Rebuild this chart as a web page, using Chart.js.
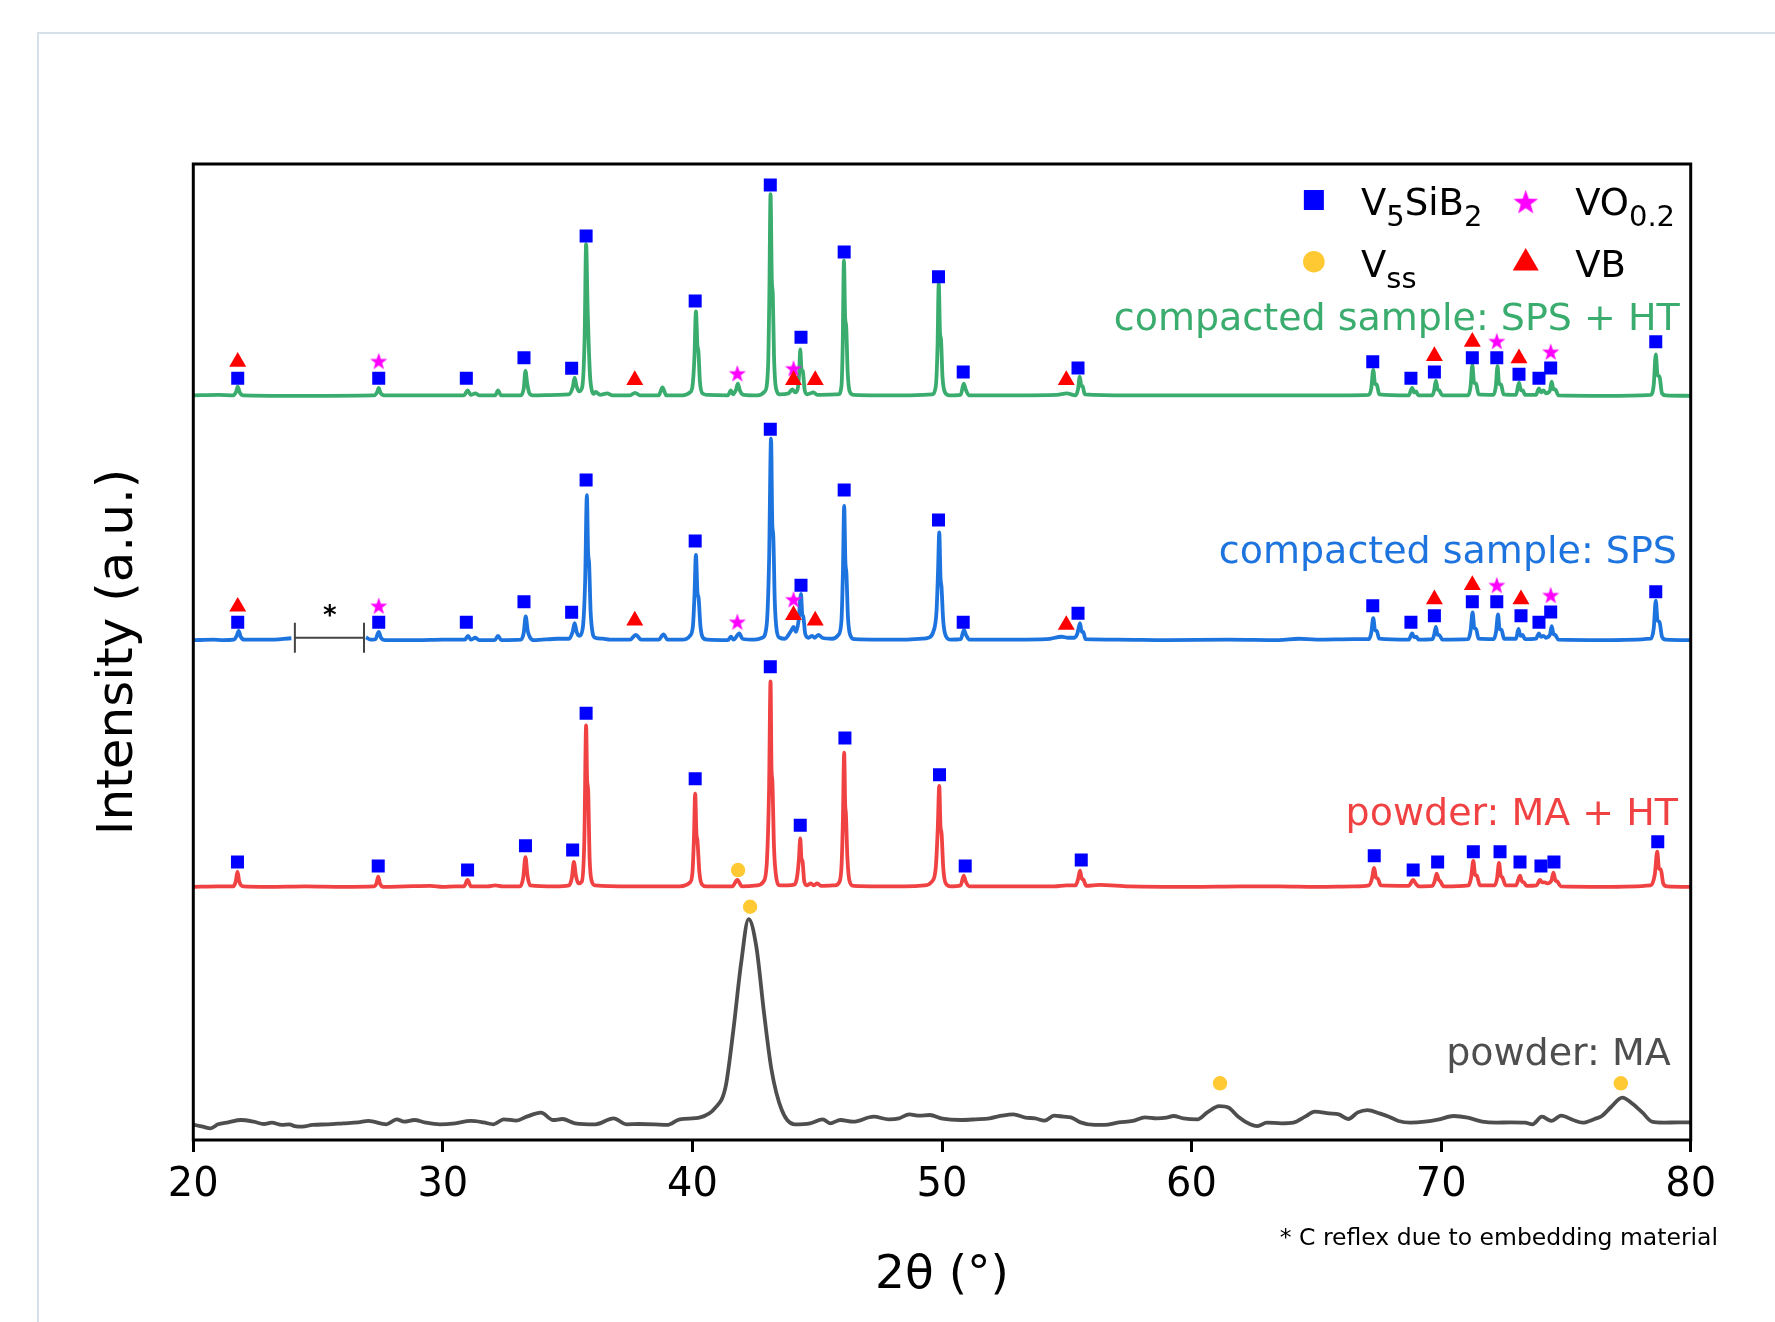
<!DOCTYPE html>
<html>
<head>
<meta charset="utf-8">
<title>XRD patterns</title>
<script src="https://cdn.jsdelivr.net/npm/chart.js@4.4.1/dist/chart.umd.min.js"></script>
<style>
  html, body { margin: 0; padding: 0; background: #fff; overflow: hidden; }
  #frame { position: absolute; left: 36.5px; top: 32px; width: 1800px; height: 1400px;
           border-left: 2.5px solid #d5e0ea; border-top: 2.5px solid #d5e0ea; }
  #wrap { position: absolute; left: 0; top: 0; width: 1775px; height: 1322px; }
</style>
</head>
<body>
<div id="frame"></div>
<div id="wrap"><canvas id="xrd"></canvas></div>
<script>
'use strict';

// ---- readings: 2theta (deg) and intensity above each pattern's own baseline (a.u.)

// compacted sample: SPS + HT
const spsHtTheta = [
  20.0, 21.0,
  21.6, 21.72, 21.78, 21.86, 22.0,
  24.0,
  27.25, 27.37, 27.43, 27.5, 27.65,
  29.5,
  30.85, 30.99, 31.12, 31.3, 31.45,
  32.1, 32.21, 32.33,
  33.12, 33.24, 33.31, 33.38, 33.47, 33.6,
  34.6,
  35.05, 35.2, 35.28, 35.36, 35.45, 35.58, 35.68, 35.74, 35.8, 35.84, 35.9, 35.98, 36.05,
  36.12, 36.3, 36.58, 36.8,
  37.5, 37.7, 37.9,
  38.65, 38.8, 38.95,
  39.6, 39.9,
  40.0, 40.08, 40.14, 40.2, 40.24, 40.3, 40.4, 40.6,
  41.42, 41.54, 41.62,
  41.75, 41.82, 41.9, 42.05,
  42.6, 42.9,
  43.03, 43.08, 43.13, 43.18, 43.22, 43.27, 43.35, 43.5,
  43.85, 44.0, 44.12,
  44.22, 44.28, 44.32, 44.37, 44.42, 44.5, 44.6,
  44.85, 45.0,
  45.85, 45.97, 46.02, 46.07, 46.12, 46.16, 46.22, 46.3, 46.45,
  47.5, 48.5,
  49.6, 49.75, 49.82, 49.87, 49.92, 49.96, 50.02, 50.12, 50.3,
  50.75, 50.87, 50.95, 51.08,
  53.0, 54.6, 55.0,
  55.35, 55.45, 55.52, 55.58, 55.64, 55.72,
  57.5, 60.0, 63.0, 66.0,
  67.1, 67.2, 67.28, 67.35, 67.42, 67.52,
  68.7, 68.84, 68.92, 69.0, 69.08,
  69.65, 69.72, 69.79, 69.86, 69.92, 70.05,
  71.08, 71.18, 71.25, 71.32, 71.4, 71.5,
  72.1, 72.19, 72.26, 72.32, 72.4, 72.5,
  73.0, 73.12, 73.2, 73.27, 73.36,
  73.8, 73.92, 74.0, 74.1, 74.2, 74.36, 74.43, 74.5, 74.57, 74.7,
  76.5,
  78.4, 78.52, 78.6, 78.67, 78.75, 78.85, 79.0,
  80.0
];
const spsHtInt = [
  0.1, 0.15,
  0.1, 0.5, 1.0, 0.4, 0.1,
  0.05,
  0.1, 0.45, 0.86, 0.35, 0.1,
  0.1,
  0.1, 0.6, 0.15, 0.3, 0.1,
  0.1, 0.6, 0.1,
  0.1, 0.8, 2.6, 1.3, 0.3, 0.1,
  0.15,
  0.2, 0.9, 1.9, 1.0, 0.5, 0.9, 6.0, 15.6, 9.0, 5.6, 2.0, 0.5, 0.25,
  0.45, 0.15, 0.3, 0.1,
  0.1, 0.35, 0.1,
  0.1, 0.9, 0.1,
  0.1, 0.4,
  1.0, 4.0, 8.7, 5.2, 4.6, 1.5, 0.3, 0.15,
  0.1, 0.6, 0.2,
  0.7, 1.3, 0.6, 0.15,
  0.1, 0.5,
  3.0, 10.0, 20.7, 12.0, 10.4, 4.0, 0.8, 0.2,
  0.3, 0.7, 0.4,
  0.8, 2.5, 4.8, 2.8, 2.6, 0.6, 0.2,
  0.4, 0.15,
  0.2, 1.0, 5.0, 13.9, 8.0, 7.2, 2.5, 0.5, 0.15,
  0.1, 0.1,
  0.2, 1.0, 5.0, 11.6, 6.5, 5.8, 2.0, 0.4, 0.1,
  0.15, 1.3, 0.7, 0.1,
  0.1, 0.15, 0.3,
  0.1, 0.7, 2.0, 1.1, 1.0, 0.2,
  0.1, 0.1, 0.1, 0.1,
  0.15, 0.8, 2.7, 1.3, 1.2, 0.2,
  0.1, 0.86, 0.4, 0.5, 0.1,
  0.1, 0.6, 1.6, 0.7, 0.6, 0.1,
  0.1, 1.0, 3.2, 1.4, 1.3, 0.2,
  0.15, 1.0, 3.1, 1.3, 1.2, 0.2,
  0.15, 1.4, 0.6, 0.6, 0.15,
  0.15, 0.8, 0.4, 0.6, 0.3, 0.6, 1.5, 0.7, 0.7, 0.1,
  0.05,
  0.15, 1.2, 4.3, 2.2, 2.0, 0.3, 0.1,
  0.05
];

// compacted sample: SPS  (null = range cut out, C reflex of embedding material)
const spsTheta = [
  20.0, 20.8, 21.2,
  21.62, 21.74, 21.82, 21.9, 22.05,
  23.0, 23.93,
  25.5,
  26.92, 27.1, 27.3, 27.43, 27.52, 27.7,
  29.0, 30.0,
  30.88, 31.01, 31.12, 31.3, 31.45,
  32.08, 32.21, 32.34,
  33.12, 33.24, 33.32, 33.4, 33.5, 33.65,
  34.6,
  35.05, 35.2, 35.28, 35.36, 35.46, 35.6, 35.7, 35.77, 35.82, 35.86, 35.92, 36.0, 36.1,
  36.4, 36.7,
  37.5, 37.73, 37.95,
  38.65, 38.84, 39.0,
  39.6, 39.9,
  40.02, 40.08, 40.14, 40.2, 40.25, 40.32, 40.42, 40.6,
  41.42, 41.54, 41.65, 41.88, 42.0, 42.5,
  42.8, 42.97, 43.07, 43.15, 43.2, 43.24, 43.3, 43.38, 43.5,
  43.7, 43.95, 44.05, 44.15, 44.25, 44.35, 44.4, 44.44, 44.52, 44.65, 44.8, 44.9, 45.05, 45.2,
  45.6, 45.85, 45.97, 46.03, 46.08, 46.13, 46.17, 46.23, 46.32, 46.5,
  47.5, 48.5, 49.2,
  49.45, 49.65, 49.78, 49.84, 49.89, 49.94, 49.98, 50.05, 50.15, 50.35,
  50.75, 50.88, 50.96, 51.1,
  53.0, 54.2, 54.8, 55.05, 55.3, 55.42, 55.53, 55.6, 55.66, 55.75,
  57.0, 59.0, 61.5, 63.5, 64.3, 65.0, 66.5,
  67.1, 67.2, 67.28, 67.35, 67.42, 67.52,
  68.7, 68.84, 68.92, 69.0, 69.1,
  69.65, 69.72, 69.79, 69.86, 69.92, 70.05,
  71.08, 71.18, 71.26, 71.33, 71.4, 71.5,
  72.1, 72.2, 72.28, 72.34, 72.42, 72.52,
  73.0, 73.1, 73.18, 73.26, 73.36,
  73.8, 73.92, 74.0, 74.1, 74.2, 74.36, 74.43, 74.5, 74.57, 74.7,
  76.5,
  78.4, 78.52, 78.6, 78.67, 78.75, 78.85, 79.0,
  80.0
];
const spsInt = [
  0.05, 0.1, 0.05,
  0.1, 0.5, 1.0, 0.4, 0.1,
  0.1, 0.25,
  null,
  0.35, 0.1, 0.15, 0.9, 0.3, 0.05,
  0.05, 0.1,
  0.1, 0.5, 0.1, 0.3, 0.05,
  0.05, 0.5, 0.05,
  0.1, 0.8, 2.5, 1.0, 0.3, 0.05,
  0.2,
  0.2, 0.9, 1.8, 0.9, 0.5, 1.2, 6.0, 14.9, 9.0, 7.9, 3.0, 0.8, 0.3,
  0.2, 0.1,
  0.1, 0.6, 0.1,
  0.1, 0.65, 0.1,
  0.1, 0.5,
  1.5, 4.5, 8.8, 5.0, 4.3, 1.5, 0.3, 0.1,
  0.05, 0.4, 0.1, 0.75, 0.2, 0.1,
  0.3, 1.5, 8.0, 20.7, 12.0, 10.7, 4.0, 1.0, 0.3,
  0.2, 1.0, 1.4, 0.9, 2.0, 4.8, 2.7, 2.5, 0.7, 0.3, 0.5, 0.3, 0.6, 0.3,
  0.2, 0.6, 2.0, 7.0, 13.8, 8.0, 6.9, 2.5, 0.6, 0.15,
  0.1, 0.1, 0.2,
  0.3, 0.9, 3.0, 7.0, 11.1, 6.5, 5.5, 2.0, 0.5, 0.1,
  0.15, 1.1, 0.6, 0.1,
  0.1, 0.15, 0.4, 0.3, 0.3, 0.7, 1.8, 0.9, 0.9, 0.15,
  0.1, 0.05, 0.1, 0.05, 0.2, 0.1, 0.15,
  0.15, 0.8, 2.3, 1.1, 1.0, 0.2,
  0.1, 0.75, 0.35, 0.4, 0.1,
  0.15, 0.6, 1.4, 0.6, 0.6, 0.1,
  0.15, 1.0, 2.9, 1.3, 1.2, 0.2,
  0.15, 0.9, 2.7, 1.2, 1.1, 0.2,
  0.2, 1.2, 0.5, 0.6, 0.15,
  0.2, 0.75, 0.4, 0.5, 0.3, 0.6, 1.5, 0.7, 0.6, 0.1,
  0.05,
  0.2, 1.3, 4.1, 2.1, 1.9, 0.4, 0.1,
  0.05
];

// powder: MA + HT
const maHtTheta = [
  20.0, 21.0,
  21.6, 21.7, 21.77, 21.84, 22.0,
  23.0, 24.5, 26.0,
  27.25, 27.34, 27.41, 27.48, 27.62,
  28.5, 29.5, 30.0, 30.5,
  30.85, 30.99, 31.12, 31.8, 32.1, 32.4,
  33.1, 33.22, 33.31, 33.39, 33.5,
  34.5,
  35.05, 35.17, 35.25, 35.33, 35.43, 35.57, 35.67, 35.74, 35.78, 35.82, 35.88, 35.97, 36.1,
  37.5, 38.5, 39.5, 39.9,
  40.0, 40.06, 40.11, 40.16, 40.2, 40.28, 40.38, 40.55,
  41.6, 41.8, 41.98, 42.6,
  42.85, 42.98, 43.07, 43.13, 43.17, 43.2, 43.27, 43.36, 43.5,
  43.8, 44.1,
  44.2, 44.27, 44.32, 44.37, 44.41, 44.48, 44.58,
  44.75, 44.85, 45.0, 45.15,
  45.7, 45.9, 45.98, 46.03, 46.08, 46.12, 46.15, 46.21, 46.3, 46.45,
  47.5, 48.5, 49.3,
  49.6, 49.75, 49.83, 49.89, 49.94, 49.98, 50.05, 50.15, 50.35,
  50.75, 50.87, 50.95, 51.1,
  52.5, 54.5, 55.0, 55.35, 55.45, 55.53, 55.6, 55.66, 55.78,
  56.3, 57.5, 60.0, 62.0, 63.5, 65.0, 66.5,
  67.1, 67.22, 67.32, 67.39, 67.46, 67.58,
  68.7, 68.88, 68.98, 69.1,
  69.65, 69.75, 69.82, 69.9, 69.97, 70.1,
  71.1, 71.2, 71.29, 71.36, 71.43, 71.55,
  72.15, 72.24, 72.32, 72.39, 72.46, 72.58,
  73.0, 73.16, 73.24, 73.32, 73.42,
  73.82, 73.96, 74.05, 74.15, 74.25, 74.42, 74.5, 74.58, 74.65, 74.8,
  76.5,
  78.4, 78.56, 78.66, 78.73, 78.8, 78.9, 79.05,
  80.0
];
const maHtInt = [
  0.05, 0.1,
  0.1, 0.6, 1.6, 0.6, 0.1,
  0.05, 0.1, 0.05,
  0.1, 0.4, 1.1, 0.4, 0.05,
  0.1, 0.15, 0.05, 0.1,
  0.1, 0.75, 0.1, 0.1, 0.2, 0.1,
  0.1, 1.0, 3.1, 1.2, 0.2,
  0.1,
  0.2, 1.0, 2.6, 1.2, 0.4, 0.6, 5.0, 16.6, 11.0, 10.0, 3.0, 0.6, 0.2,
  0.1, 0.1, 0.1, 0.5,
  1.5, 5.0, 9.6, 5.5, 4.8, 1.5, 0.3, 0.1,
  0.1, 0.75, 0.1, 0.2,
  0.6, 2.5, 10.0, 21.1, 12.0, 11.0, 4.0, 1.0, 0.2,
  0.2, 0.3,
  1.2, 3.0, 5.0, 2.9, 2.7, 0.6, 0.2,
  0.4, 0.2, 0.4, 0.15,
  0.2, 0.6, 2.5, 7.0, 13.8, 8.5, 7.5, 3.0, 0.6, 0.15,
  0.1, 0.1, 0.2,
  0.6, 2.0, 6.0, 10.4, 6.2, 5.6, 2.0, 0.4, 0.1,
  0.2, 1.2, 0.6, 0.1,
  0.1, 0.1, 0.2, 0.2, 0.8, 1.7, 0.9, 0.8, 0.15,
  0.25, 0.1, 0.05, 0.1, 0.1, 0.05, 0.1,
  0.2, 0.8, 2.0, 1.0, 0.9, 0.2,
  0.15, 0.75, 0.4, 0.1,
  0.15, 0.7, 1.4, 0.8, 0.6, 0.1,
  0.2, 1.0, 2.7, 1.3, 1.2, 0.2,
  0.2, 0.9, 2.5, 1.2, 1.0, 0.2,
  0.2, 1.2, 0.6, 0.5, 0.15,
  0.2, 0.75, 0.5, 0.5, 0.4, 0.7, 1.5, 0.7, 0.6, 0.1,
  0.05,
  0.2, 1.3, 3.65, 1.9, 1.85, 0.4, 0.1,
  0.05
];

// powder: MA
const maTheta = [
  20.0, 20.07, 20.38, 20.69, 20.99, 21.40, 21.91, 22.42, 22.83, 23.14, 23.55, 23.85, 24.06,
  24.37, 24.77, 25.39, 26.00, 26.61, 27.02, 27.74, 28.15, 28.45, 28.86, 29.27, 29.88,
  30.50, 31.11, 31.62, 32.03, 32.44, 32.95, 33.36, 33.93, 34.42, 34.79, 35.30, 36.12,
  36.84, 37.35, 37.86, 38.47, 38.98, 39.49, 40.31, 40.92, 41.33, 41.64, 41.95, 42.25,
  42.56, 42.87, 43.17, 43.58, 44.09, 44.71, 45.22, 45.52, 45.93, 46.44, 47.26, 47.87,
  48.28, 48.69, 49.10, 49.51, 50.02, 50.74, 51.35, 51.91, 52.39, 52.86, 53.34, 53.73,
  54.11, 54.49, 54.88, 55.16, 55.55, 56.12, 56.51, 57.08, 57.65, 58.13, 58.61, 58.99,
  59.28, 59.67, 60.24, 60.63, 61.10, 61.49, 61.87, 62.35, 62.64, 63.02, 63.60, 64.08,
  64.55, 64.94, 65.51, 65.90, 66.28, 66.66, 67.05, 67.53, 67.91, 68.29, 68.77, 69.35,
  69.92, 70.50, 71.07, 71.65, 72.22, 72.79, 73.37, 73.66, 74.04, 74.42, 74.81, 75.29,
  75.67, 76.15, 76.44, 76.82, 77.26, 77.68, 78.06, 78.45, 78.93, 79.50, 79.98
];
const maInt = [
  1.6, 1.54, 1.37, 1.20, 1.61, 1.81, 2.05, 1.88, 1.64, 1.78, 1.54, 1.61, 1.43,
  1.37, 1.54, 1.61, 1.71, 1.81, 1.95, 1.61, 2.12, 1.88, 2.05, 1.81, 1.61,
  1.71, 1.95, 1.81, 1.61, 2.12, 1.98, 2.39, 2.80, 2.05, 2.15, 1.71, 1.61,
  2.22, 1.61, 1.64, 1.61, 1.54, 2.12, 2.32, 3.31, 5.46, 11.27, 18.10, 22.64,
  19.81, 12.98, 7.17, 3.07, 1.61, 1.71, 2.12, 1.71, 2.05, 1.88, 2.39, 2.12,
  2.22, 2.63, 2.49, 2.56, 2.19, 2.05, 2.12, 2.22, 2.49, 2.63, 2.29, 2.22,
  1.98, 2.49, 2.39, 2.32, 1.81, 1.54, 1.54, 1.81, 1.95, 2.32, 2.22, 2.29,
  2.46, 2.22, 2.12, 2.83, 3.48, 3.31, 2.39, 1.61, 1.43, 1.78, 1.71, 1.78,
  2.39, 2.90, 2.73, 2.63, 2.15, 2.83, 3.07, 2.73, 2.39, 1.95, 1.78, 1.88,
  2.12, 2.46, 2.29, 1.88, 1.78, 1.81, 1.78, 1.61, 2.39, 1.95, 2.49, 2.05,
  1.78, 2.15, 2.46, 3.41, 4.34, 3.69, 2.83, 1.88, 1.78, 1.81, 1.81
];

// vertical stacking offset of each pattern (a.u.)
const patternOffsets = [76.2, 51.16, 25.89, 0];
const patternLabels = ['compacted sample: SPS + HT', 'compacted sample: SPS', 'powder: MA + HT', 'powder: MA'];

// ---- phase markers: 2theta and height in the stacked plot (a.u.)
const v5sib2Theta = [
  21.78, 27.43, 30.94, 33.25, 35.16, 35.74, 40.11, 43.12, 44.35, 46.08, 49.86, 50.85, 55.45,
  67.26, 68.79, 69.73, 71.25, 72.23, 73.12, 73.92, 74.39, 78.60,
  21.78, 27.43, 30.94, 33.25, 35.16, 35.74, 40.11, 43.12, 44.35, 46.08, 49.86, 50.85, 55.45,
  67.26, 68.79, 69.73, 71.25, 72.23, 73.20, 73.92, 74.39, 78.60,
  21.77, 27.41, 30.99, 33.31, 35.20, 35.74, 40.11, 43.12, 44.32, 46.11, 49.90, 50.93, 55.58,
  67.32, 68.88, 69.86, 71.29, 72.36, 73.16, 74.00, 74.52, 78.68
];
const v5sib2Y = [
  78.04, 78.04, 78.04, 80.15, 79.07, 92.62, 85.96, 97.85, 82.24, 90.98, 88.45, 78.69, 79.10,
  79.74, 78.04, 78.69, 80.15, 80.15, 78.45, 78.04, 79.10, 81.79,
  53.04, 53.04, 53.04, 55.15, 54.07, 67.62, 61.37, 72.82, 56.83, 66.60, 63.52, 53.04, 53.96,
  54.74, 53.04, 53.72, 55.15, 55.15, 53.72, 53.04, 54.10, 56.18,
  28.48, 28.07, 27.66, 30.15, 29.71, 43.72, 37.02, 48.49, 32.24, 41.19, 37.43, 28.07, 28.69,
  29.13, 27.66, 28.48, 29.54, 29.54, 28.48, 28.07, 28.48, 30.56
];
const vbTheta = [
  21.78, 37.69, 44.05, 44.92, 54.98, 69.73, 71.25, 73.12,
  21.78, 37.69, 44.05, 44.92, 54.98, 69.73, 71.25, 73.20
];
const vbY = [
  79.74, 77.87, 77.87, 77.87, 77.87, 80.33, 81.79, 80.09,
  54.64, 53.21, 53.79, 53.21, 52.77, 55.40, 56.86, 55.40
];
const vo02Theta = [27.43, 41.80, 44.05, 72.23, 74.39, 27.43, 41.80, 44.05, 72.23, 74.39];
const vo02Y = [79.82, 78.56, 79.07, 81.86, 80.77, 54.74, 53.10, 55.40, 56.86, 55.84];
const vssTheta = [41.83, 42.31, 61.14, 77.20];
const vssY = [27.66, 23.90, 5.81, 5.81];

// excluded C reflex range on the SPS pattern
const cReflexRange = [24.07, 26.84];

const xTicks = [20, 30, 40, 50, 60, 70, 80];

// ---- styling
const FONT = '"DejaVu Sans", "Noto Sans", sans-serif';
const lineColors = ['rgb(58,172,110)', 'rgb(30,116,222)', 'rgb(240,66,66)', 'rgb(78,78,78)'];
const C_SQ = '#0000ff', C_TRI = '#ff0000', C_STAR = '#ff00ff', C_CIRC = '#ffc933';

function toPoints(theta, val, off) {
  if (theta.length !== val.length) console.warn('length mismatch', theta.length, val.length);
  const n = Math.min(theta.length, val.length);
  const pts = [];
  for (let i = 0; i < n; i++) pts.push({x: theta[i], y: val[i] === null ? null : val[i] + off});
  return pts;
}

function makeStar(outer, color) {
  const inner = outer * 0.4;
  const w = Math.ceil(2 * outer * Math.sin(Math.PI * 2 / 5)) + 2;
  const h = Math.ceil(outer * (1 + Math.cos(Math.PI / 5))) + 2;
  const c = document.createElement('canvas');
  c.width = w; c.height = h;
  const g = c.getContext('2d');
  g.fillStyle = color;
  g.beginPath();
  const cx = w / 2, cy = (h - outer * (1 + Math.cos(Math.PI / 5))) / 2 + outer;
  for (let i = 0; i < 10; i++) {
    const r = i % 2 ? inner : outer;
    const a = -Math.PI / 2 + i * Math.PI / 5;
    g.lineTo(cx + r * Math.cos(a), cy + r * Math.sin(a));
  }
  g.closePath();
  g.fill();
  return c;
}
const starSmall = makeStar(9, C_STAR);
const starBig = makeStar(13, C_STAR);

const series = [
  [spsHtTheta, spsHtInt],
  [spsTheta, spsInt],
  [maHtTheta, maHtInt],
  [maTheta, maInt]
];

const lineSets = series.map((s, i) => ({
  type: 'line',
  label: patternLabels[i],
  data: toPoints(s[0], s[1], patternOffsets[i]),
  borderColor: lineColors[i],
  borderWidth: 3.8,
  pointRadius: 0,
  cubicInterpolationMode: 'monotone',
  spanGaps: false,
  order: 5
}));

function markerSet(label, theta, y, style, color, radius) {
  return {
    type: 'scatter',
    label: label,
    data: toPoints(theta, y, 0),
    pointStyle: style,
    pointRadius: radius,
    pointHoverRadius: radius,
    backgroundColor: color,
    borderColor: color,
    borderWidth: 0,
    showLine: false,
    order: 1
  };
}

const markerSets = [
  markerSet('V5SiB2', v5sib2Theta, v5sib2Y, 'rect', C_SQ, 9.2),
  markerSet('VB', vbTheta, vbY, 'triangle', C_TRI, 9.8),
  markerSet('VO0.2', vo02Theta, vo02Y, starSmall, C_STAR, 9),
  markerSet('Vss', vssTheta, vssY, 'circle', C_CIRC, 7.2)
];

// legend entries: [symbol, theta, y, text parts ([text, subscript?]), text theta, text baseline]
const legendItems = [
  ['sq', 64.9, 96.31, [['V', 0], ['5', 1], ['SiB', 0], ['2', 1]], 66.79, 94.77],
  ['star', 73.39, 96.14, [['VO', 0], ['0.2', 1]], 75.37, 94.77],
  ['circ', 64.9, 89.99, [['V', 0], ['ss', 1]], 66.79, 88.45],
  ['tri', 73.39, 90.24, [['VB', 0]], 75.37, 88.45]
];
// pattern label anchors (right end, baseline)
const labelTheta = [79.56, 79.45, 79.49, 79.2];
const labelY = [82.99, 59.15, 32.27, 7.68];

const decor = {
  id: 'decor',
  afterDraw(chart) {
    const {ctx, chartArea: a, scales: {x, y}} = chart;
    ctx.save();

    // bracket for excluded C reflex
    const bx1 = x.getPixelForValue(cReflexRange[0]), bx2 = x.getPixelForValue(cReflexRange[1]);
    const by = y.getPixelForValue(51.46);
    ctx.strokeStyle = '#444';
    ctx.lineWidth = 2;
    ctx.beginPath();
    ctx.moveTo(bx1, by); ctx.lineTo(bx2, by);
    ctx.moveTo(bx1, by - 15); ctx.lineTo(bx1, by + 15);
    ctx.moveTo(bx2, by - 15); ctx.lineTo(bx2, by + 15);
    ctx.stroke();
    ctx.fillStyle = '#000';
    ctx.font = 'bold 26px ' + FONT;
    ctx.textAlign = 'center';
    ctx.textBaseline = 'middle';
    ctx.fillText('*', x.getPixelForValue(25.47), y.getPixelForValue(53.6));

    // pattern labels
    ctx.font = '38px ' + FONT;
    ctx.textAlign = 'right';
    ctx.textBaseline = 'alphabetic';
    patternLabels.forEach((t, i) => {
      ctx.fillStyle = lineColors[i];
      ctx.fillText(t, x.getPixelForValue(labelTheta[i]), y.getPixelForValue(labelY[i]));
    });

    // legend
    ctx.textAlign = 'left';
    legendItems.forEach(it => {
      const px = x.getPixelForValue(it[1]), py = y.getPixelForValue(it[2]);
      if (it[0] === 'sq') { ctx.fillStyle = C_SQ; ctx.fillRect(px - 10, py - 10, 20, 20); }
      if (it[0] === 'circ') { ctx.fillStyle = C_CIRC; ctx.beginPath(); ctx.arc(px, py, 10.8, 0, Math.PI * 2); ctx.fill(); }
      if (it[0] === 'tri') {
        ctx.fillStyle = C_TRI; ctx.beginPath();
        ctx.moveTo(px, py - 11.2); ctx.lineTo(px + 13, py + 11.2); ctx.lineTo(px - 13, py + 11.2);
        ctx.closePath(); ctx.fill();
      }
      if (it[0] === 'star') ctx.drawImage(starBig, px - starBig.width / 2, py - starBig.height / 2);
      let tx = x.getPixelForValue(it[4]);
      const ty = y.getPixelForValue(it[5]);
      ctx.fillStyle = '#000';
      it[3].forEach(([t, sub]) => {
        ctx.font = (sub ? 29 : 37) + 'px ' + FONT;
        ctx.fillText(t, tx, ty + (sub ? 11 : 0));
        tx += ctx.measureText(t).width;
      });
    });

    // footnote
    ctx.font = '23.5px ' + FONT;
    ctx.textAlign = 'right';
    ctx.fillStyle = '#000';
    ctx.fillText('* C reflex due to embedding material', 1718, 1245);

    // plot frame
    ctx.strokeStyle = '#000';
    ctx.lineWidth = 3;
    ctx.strokeRect(a.left, a.top, a.right - a.left, a.bottom - a.top);
    ctx.restore();
  }
};

new Chart(document.getElementById('xrd'), {
  type: 'line',
  data: { datasets: markerSets.concat(lineSets) },
  options: {
    responsive: true,
    maintainAspectRatio: false,
    animation: false,
    layout: { padding: { left: 89, right: 84.3, top: 164, bottom: 17.8 } },
    plugins: { legend: { display: false }, tooltip: { enabled: false } },
    scales: {
      x: {
        type: 'linear', min: 20, max: 80,
        afterBuildTicks: s => { s.ticks = xTicks.map(v => ({value: v})); },
        ticks: { color: '#000', padding: 10, font: { family: FONT, size: 40 } },
        grid: { drawOnChartArea: false, drawTicks: true, tickLength: 12, tickWidth: 3, tickColor: '#000' },
        border: { display: false },
        title: { display: true, text: '2θ (°)', color: '#000', padding: 0, font: { family: FONT, size: 47 } },
        afterFit: s => { s.height = 164.2; }
      },
      y: {
        type: 'linear', min: 0, max: 100,
        ticks: { display: false },
        grid: { display: false },
        border: { display: false },
        title: { display: true, text: 'Intensity (a.u.)', color: '#000', padding: 0, font: { family: FONT, size: 50 } },
        afterFit: s => { s.width = 104.3; }
      }
    }
  },
  plugins: [decor]
});
</script>
</body>
</html>
